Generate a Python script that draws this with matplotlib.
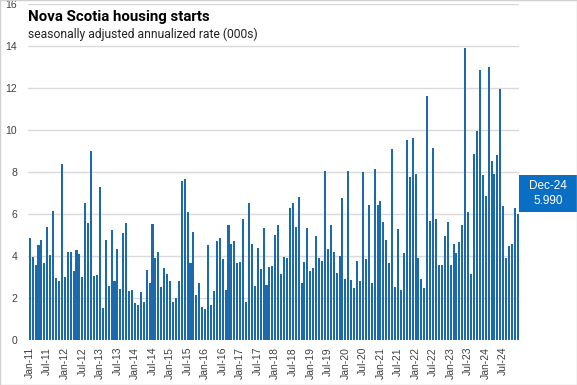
import matplotlib.pyplot as plt
import numpy as np
from matplotlib.patches import Rectangle

# monthly starts, Jan-11 .. Dec-24 (000s, SAAR)
y2011 = [4.83, 3.96, 3.56, 4.51, 4.78, 3.65, 5.39, 4.03, 6.12, 2.97, 2.79, 8.37]
y2012 = [3.01, 4.21, 4.18, 3.30, 4.26, 4.11, 3.01, 6.51, 5.58, 9.01, 3.06, 3.11]
y2013 = [7.27, 1.53, 4.74, 2.58, 5.22, 2.82, 4.35, 2.44, 5.10, 5.55, 2.31, 2.38]
y2014 = [1.77, 1.67, 2.26, 1.83, 3.35, 2.70, 5.50, 3.92, 4.18, 2.54, 3.44, 3.13]
y2015 = [2.82, 1.83, 1.98, 2.79, 7.58, 7.67, 6.08, 3.65, 5.12, 2.15, 2.70, 1.58]
y2016 = [1.48, 4.51, 1.67, 2.31, 4.70, 4.83, 3.83, 2.39, 5.45, 4.55, 4.70, 3.65]
y2017 = [3.73, 5.76, 1.83, 6.51, 4.55, 2.58, 4.40, 3.40, 5.31, 2.63, 3.49, 3.54]
y2018 = [4.99, 5.45, 3.13, 3.97, 3.92, 6.28, 6.51, 5.37, 6.79, 2.73, 3.73, 5.31]
y2019 = [3.30, 3.44, 4.93, 3.88, 3.78, 8.04, 4.35, 5.45, 4.21, 3.17, 4.02, 6.75]
y2020 = [2.92, 8.04, 2.85, 2.49, 3.78, 2.82, 7.99, 3.83, 6.41, 2.70, 8.13, 6.41]
y2021 = [6.60, 5.60, 4.74, 3.68, 9.09, 2.54, 5.26, 2.39, 4.16, 9.52, 7.75, 9.62]
y2022 = [7.89, 3.92, 2.92, 2.49, 11.63, 5.65, 9.14, 5.74, 3.59, 3.59, 4.93, 5.60]
y2023 = [3.59, 4.59, 4.16, 4.64, 5.45, 13.92, 6.08, 3.16, 8.85, 9.95, 12.87, 7.85]
y2024 = [6.84, 13.01, 8.52, 7.89, 8.80, 11.95, 6.36, 3.92, 4.45, 4.55, 6.27, 5.99]

years = list(range(11, 25))
months = ['Jan', 'Feb', 'Mar', 'Apr', 'May', 'Jun',
          'Jul', 'Aug', 'Sep', 'Oct', 'Nov', 'Dec']

starts = (y2011 + y2012 + y2013 + y2014 + y2015 + y2016 + y2017 +
          y2018 + y2019 + y2020 + y2021 + y2022 + y2023 + y2024)
labels = [f"{m}-{y}" for y in years for m in months]

last_label = 'Dec-24'
last_value = '5.990'

bar_col = '#1a6aad'
grid_col = '#d9d9d9'
txt_col = '#404040'

fig = plt.figure(figsize=(5.77, 3.85), dpi=100, facecolor='white')
ax = fig.add_axes([0.049, 0.117, 0.851, 0.873])

x = np.arange(len(starts))
ax.bar(x, starts, width=0.7, color=bar_col, zorder=2)

ax.set_xlim(-0.5, len(starts) - 0.5)
ax.set_ylim(0, 16)
ax.set_yticks(range(0, 17, 2))
ax.yaxis.grid(True, color=grid_col, linewidth=1, zorder=0)
ax.tick_params(axis='y', length=0, labelsize=7.5, labelcolor=txt_col, pad=8)

ax.set_xticks(x[::6])
ax.set_xticklabels(labels[::6], rotation=90, fontsize=7.5, color=txt_col,
                   family='Liberation Sans')
ax.tick_params(axis='x', length=0, pad=5)
for s in ax.spines.values():
    s.set_visible(False)
for t in ax.get_yticklabels():
    t.set_family('Liberation Sans')

fig.text(0.049, 0.957, 'Nova Scotia housing starts', fontsize=10.8,
         fontweight='bold', family='Roboto', color='black', va='center')
fig.text(0.049, 0.91, 'seasonally adjusted annualized rate (000s)',
         fontsize=8.7, family='Roboto', color='#222222', va='center')

# callout for the last value
fig.patches.append(Rectangle((0.9, 0.449), 0.1, 0.096, transform=fig.transFigure,
                             facecolor='#0a6fc2', edgecolor='none'))
fig.text(0.95, 0.497, f"{last_label}\n{last_value}", ha='center', va='center',
         fontsize=8.5, color='white', family='Liberation Sans', linespacing=1.3)

fig.patches.append(Rectangle((0, 0), 1, 1, transform=fig.transFigure,
                             facecolor='none', edgecolor='#d0d0d0', linewidth=1))

fig.savefig('out.png', dpi=100, facecolor='white')
